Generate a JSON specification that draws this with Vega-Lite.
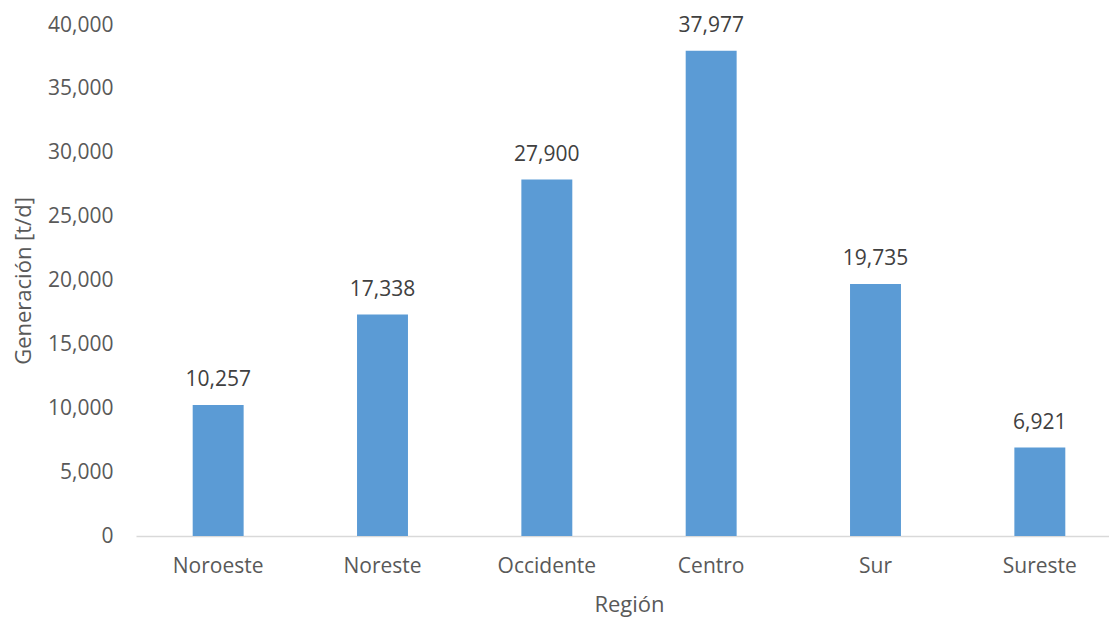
{
  "$schema": "https://vega.github.io/schema/vega-lite/v6.json",
  "width": 973,
  "height": 511,
  "autosize": {"type": "none"},
  "padding": {"left": 136, "top": 25, "right": 0, "bottom": 82},
  "background": "white",
  "data": {"values": [
    {"region": "Noroeste", "value": 10257},
    {"region": "Noreste", "value": 17338},
    {"region": "Occidente", "value": 27900},
    {"region": "Centro", "value": 37977},
    {"region": "Sur", "value": 19735},
    {"region": "Sureste", "value": 6921}
  ]},
  "config": {
    "view": {"stroke": null},
    "font": "Open Sans"
  },
  "encoding": {
    "x": {
      "field": "region", "type": "nominal", "sort": null,
      "scale": {"paddingInner": 0.69, "paddingOuter": 0.345, "range": [0, 986]},
      "axis": {
        "title": "Región", "labelAngle": 0, "labelFontSize": 21, "labelColor": "#595959",
        "titleFontSize": 22, "titleColor": "#595959", "titleFontWeight": "normal",
        "domainColor": "#d9d9d9", "domainWidth": 1.5, "ticks": false, "labelPadding": 19, "titlePadding": 18
      }
    },
    "y": {
      "field": "value", "type": "quantitative",
      "scale": {"domain": [0, 40000]},
      "axis": {
        "title": "Generación [t/d]", "format": ",.0f", "values": [0,5000,10000,15000,20000,25000,30000,35000,40000],
        "labelOverlap": false,
        "labelFontSize": 21, "labelColor": "#595959", "titleFontSize": 22, "titleColor": "#595959",
        "titleFontWeight": "normal", "domain": false, "ticks": false, "grid": false,
        "labelPadding": 23, "titlePadding": 12
      }
    }
  },
  "layer": [
    {"mark": {"type": "bar", "color": "#5b9bd5"}},
    {
      "mark": {"type": "text", "baseline": "alphabetic", "dy": -19, "fontSize": 21, "color": "#404040"},
      "encoding": {"text": {"field": "value", "type": "quantitative", "format": ",.0f"}}
    }
  ]
}
